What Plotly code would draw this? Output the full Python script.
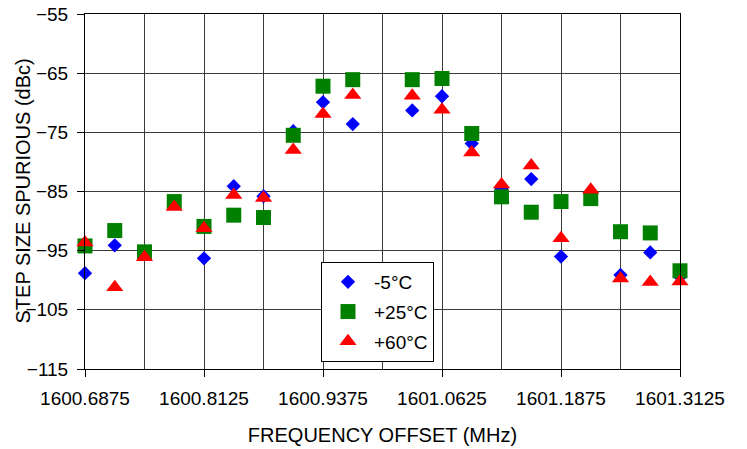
import plotly.graph_objects as go

# Frequency offsets (MHz); 1601.0000 has no measurement
freq = [1600.6875, 1600.71875, 1600.75, 1600.78125, 1600.8125, 1600.84375,
        1600.875, 1600.90625, 1600.9375, 1600.96875, 1601.03125, 1601.0625,
        1601.09375, 1601.125, 1601.15625, 1601.1875, 1601.21875, 1601.25,
        1601.28125, 1601.3125]

spur_m5 = [-98.8, -94.1, -95.3, -87.0, -96.3, -84.1, -85.8, -74.8, -69.9, -73.6,
           -71.3, -68.9, -76.9, -84.5, -82.9, -96.0, -85.1, -99.1, -95.3, -99.4]
spur_p25 = [-94.2, -91.6, -95.2, -86.7, -90.9, -89.0, -89.4, -75.5, -67.2, -66.1,
            -66.1, -65.9, -75.2, -85.9, -88.5, -86.7, -86.2, -91.8, -92.0, -98.4]
spur_p60 = [-93.6, -101.2, -96.1, -87.6, -91.2, -85.6, -86.1, -78.0, -71.9, -68.7,
            -68.8, -71.2, -78.4, -83.8, -80.6, -92.9, -84.7, -99.7, -100.3, -100.2]

series_names = ["-5°C", "+25°C", "+60°C"]
x_ticks = [1600.6875, 1600.8125, 1600.9375, 1601.0625, 1601.1875, 1601.3125]
y_ticks = [-55, -65, -75, -85, -95, -105, -115]

FONT = "Liberation Sans, Arial, Helvetica, sans-serif"

fig = go.Figure()
fig.add_trace(go.Scatter(x=freq, y=spur_m5, mode="markers", name=series_names[0],
                         legendgroup="a",
                         marker=dict(symbol="diamond", size=11, color="#0000FF"),
                         cliponaxis=False))
fig.add_trace(go.Scatter(x=freq, y=spur_p25, mode="markers", name=series_names[1],
                         legendgroup="b",
                         marker=dict(symbol="square", size=15, color="#008000"),
                         cliponaxis=False))
fig.add_trace(go.Scatter(x=freq, y=spur_p60, mode="markers", name=series_names[2],
                         legendgroup="c",
                         marker=dict(symbol="triangle-up", size=15, color="#FF0000"),
                         cliponaxis=False))

fig.update_layout(
    width=747, height=449,
    margin=dict(l=85, r=67, t=14, b=80, autoexpand=False),
    paper_bgcolor="white", plot_bgcolor="white",
    font=dict(family=FONT, size=19, color="black"),
    showlegend=True,
    legend=dict(x=(321 - 85) / 595, y=(369 - 262) / 355, xanchor="left", yanchor="top",
                bgcolor="white", bordercolor="black", borderwidth=1,
                font=dict(size=19), tracegroupgap=2, itemwidth=42,
                entrywidth=100, entrywidthmode="pixels"),
    xaxis=dict(range=[x_ticks[0], x_ticks[-1]], tickvals=x_ticks, automargin=False,
               tickformat=".4f", ticks="outside", ticklen=7, tickcolor="black",
               ticklabelstandoff=5,
               showgrid=True, gridcolor="#3a3a3a", gridwidth=1,
               minor=dict(dtick=0.0625, tick0=x_ticks[0], showgrid=True,
                          gridcolor="#3a3a3a", gridwidth=1, ticks=""),
               showline=True, linecolor="black", linewidth=1, mirror=True,
               zeroline=False,
               title=dict(text="FREQUENCY OFFSET (MHz)", font=dict(size=20), standoff=20)),
    yaxis=dict(range=[-115, -55], tickvals=y_ticks, ticks="outside", ticklen=7,
               tickcolor="black", ticklabelstandoff=5, automargin=False,
               showgrid=True, gridcolor="#3a3a3a", gridwidth=1,
               showline=True, linecolor="black", linewidth=1, mirror=True,
               zeroline=False),
    annotations=[dict(text="STEP SIZE SPURIOUS (dBc)", textangle=-90,
                      xref="paper", yref="paper", x=(22 - 85) / 595, y=0.5,
                      xanchor="center", yanchor="middle", showarrow=False,
                      font=dict(size=20))],
)

fig.write_html("out.html")
